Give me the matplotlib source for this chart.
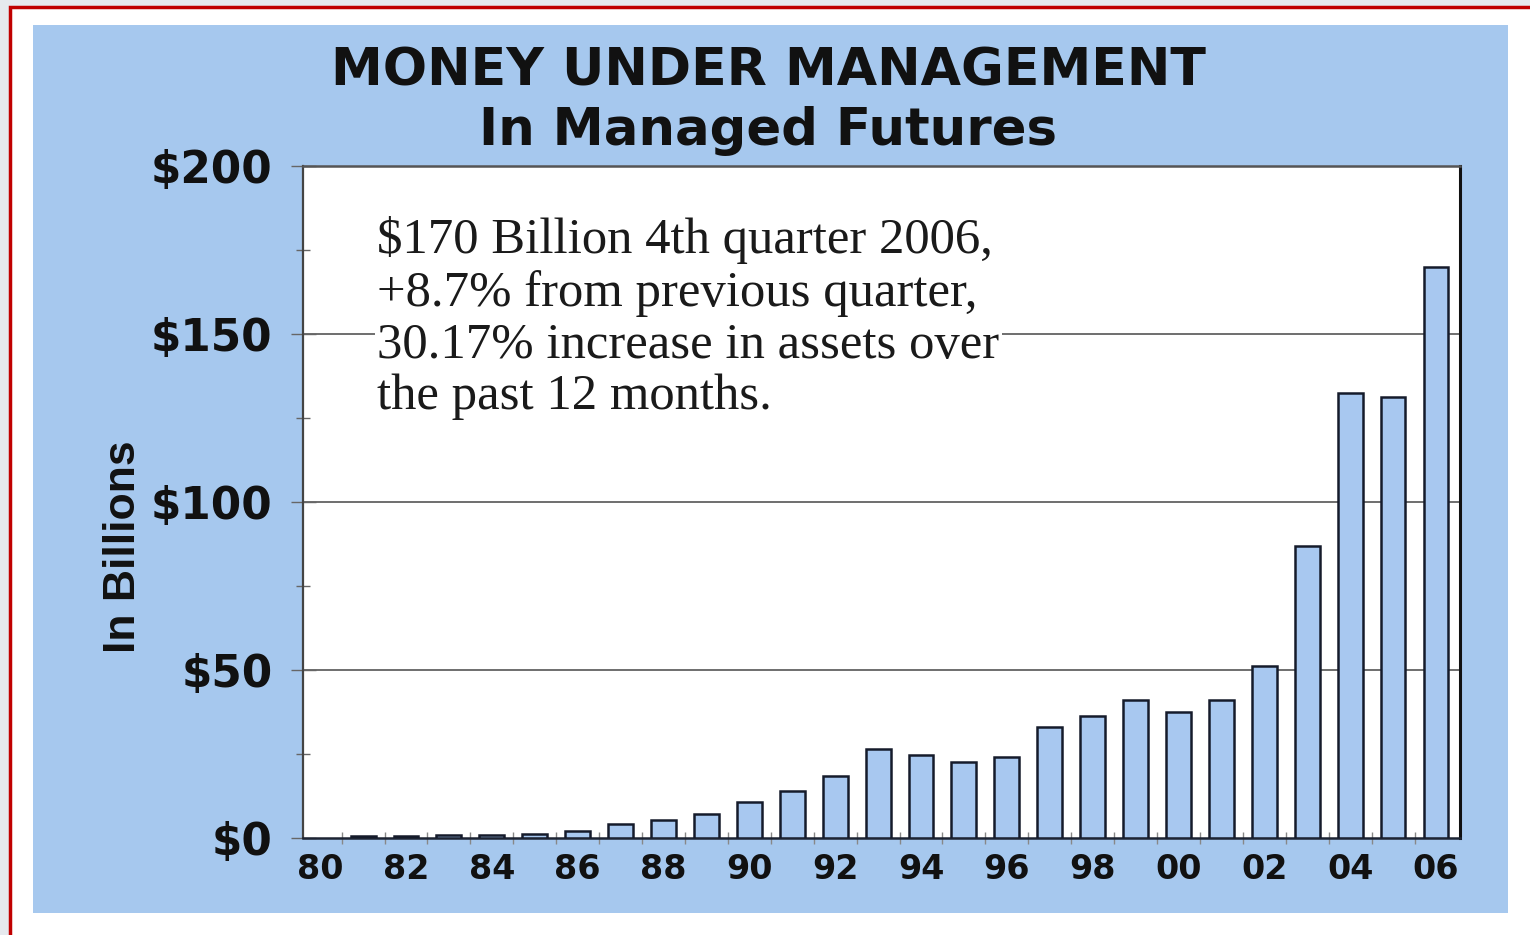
import matplotlib
matplotlib.use("Agg")
import matplotlib.pyplot as plt
from matplotlib.patches import Rectangle
from matplotlib.ticker import MultipleLocator, FixedLocator

# 数据 (单位: 十亿美元)
years = list(range(1981, 2007))
assets = [0.7, 0.7, 0.8, 0.8, 1.3, 2.0, 4.1, 5.5, 7.1, 10.6, 14.1, 18.5, 26.4,
          24.8, 22.6, 24.1, 33.1, 36.2, 41.2, 37.6, 41.2, 51.1, 86.8, 132.4,
          131.2, 170.0]
label_years = list(range(1980, 2007, 2))
year_labels = ["%02d" % (y % 100) for y in label_years]
y_ticks = [0, 50, 100, 150, 200]
y_labels = ["$0", "$50", "$100", "$150", "$200"]

title1 = "MONEY UNDER MANAGEMENT"
title2 = "In Managed Futures"
note = ("$170 Billion 4th quarter 2006,\n"
        "+8.7% from previous quarter,\n"
        "30.17% increase in assets over\n"
        "the past 12 months.")

W, H = 1530, 935
fig = plt.figure(figsize=(W / 100, H / 100), dpi=100, facecolor="#e6e9ee")

# 背景: 白底红框 + 浅蓝面板
fig.patches.append(Rectangle((10 / W, -0.1), 1.2, 1.1 - 7 / H, transform=fig.transFigure,
                             facecolor="white", edgecolor="#c00000", linewidth=2.5, zorder=-3))
fig.patches.append(Rectangle((33 / W, 1 - 913 / H), (1508 - 33) / W, (913 - 25) / H,
                             transform=fig.transFigure, facecolor="#a6c8ee",
                             edgecolor="none", zorder=-2))

ax = fig.add_axes([303 / W, 1 - 838 / H, (1460 - 303) / W, (838 - 166) / H])
ax.set_facecolor("white")

ax.bar(years, assets, width=0.58, color="#a8c8f0", edgecolor="#151b2b",
       linewidth=1.8, zorder=3)

ax.set_xlim(1979.6, 2006.56)
ax.set_ylim(0, 200)

# y 轴
ax.set_yticks(y_ticks)
ax.set_yticklabels(y_labels, fontsize=31.5, fontweight="bold", color="#111111")
ax.yaxis.set_minor_locator(MultipleLocator(25))
ax.tick_params(axis="y", which="major", direction="inout", length=18, width=1,
               color="#666666", pad=13)
ax.tick_params(axis="y", which="minor", direction="inout", length=10, width=1,
               color="#666666")
for v in [50, 100, 150]:
    ax.axhline(v, color="#555555", linewidth=1.2, zorder=1)

# x 轴
ax.set_xticks(label_years)
ax.set_xticklabels(year_labels, fontsize=24, fontweight="bold", color="#111111")
ax.xaxis.set_minor_locator(FixedLocator([y + 0.5 for y in range(1980, 2006)]))
ax.tick_params(axis="x", which="major", length=0, pad=11)
ax.tick_params(axis="x", which="minor", direction="inout", length=9, width=1,
               color="#888888")

for side, c, lw in [("left", "#444444", 1.6), ("bottom", "#1d2433", 1.8),
                    ("right", "#111111", 2.2), ("top", "#555555", 1.8)]:
    ax.spines[side].set_color(c)
    ax.spines[side].set_linewidth(lw)

ax.set_ylabel("In Billions", fontsize=32, fontweight="bold", color="#111111",
              family="Liberation Sans")
ax.yaxis.set_label_coords(-0.137, 0.433)

ax.text(0.064, 0.925, note, transform=ax.transAxes, ha="left", va="top",
        fontsize=36.5, family="Liberation Serif", color="#1a1a1a", linespacing=1.15,
        bbox=dict(facecolor="white", edgecolor="none", pad=2), zorder=4)

fig.text(768 / W, 1 - 85 / H, title1, ha="center", va="baseline", fontsize=37.5,
         fontweight="bold", color="#111111")
fig.text(768 / W, 1 - 145 / H, title2, ha="center", va="baseline", fontsize=37,
         fontweight="bold", color="#111111")

fig.savefig("out.png", dpi=100, facecolor=fig.get_facecolor())
